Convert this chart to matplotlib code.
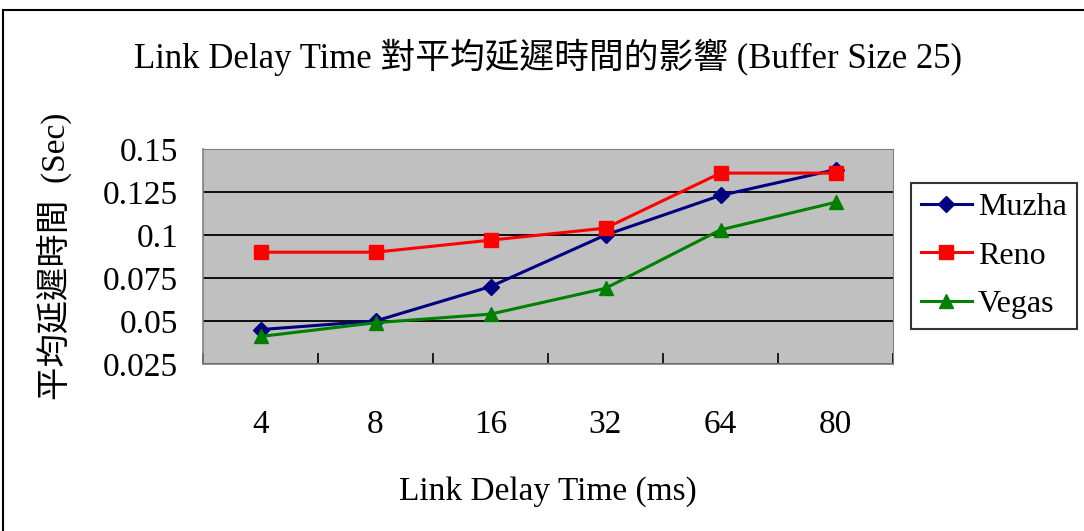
import matplotlib
matplotlib.use("Agg")
import matplotlib.pyplot as plt
from matplotlib.patches import Rectangle
from matplotlib.ticker import FixedLocator, NullFormatter

categories = ["4", "8", "16", "32", "64", "80"]
muzha = [0.045, 0.050, 0.070, 0.100, 0.123, 0.138]
reno = [0.090, 0.090, 0.097, 0.104, 0.136, 0.136]
vegas = [0.041, 0.049, 0.054, 0.069, 0.103, 0.119]
yticks = [0.025, 0.05, 0.075, 0.1, 0.125, 0.15]
ytick_labels = ["0.025", "0.05", "0.075", "0.1", "0.125", "0.15"]

FAM = ["Liberation Serif", "Noto Sans CJK TC", "DejaVu Sans"]
plt.rcParams["font.family"] = FAM
FS = 24

fig = plt.figure(figsize=(10.84, 5.31), dpi=100)
W, H = 1084, 531
fig.patches.append(Rectangle((3 / W, -0.01), 1.0, 1 - 10 / H + 0.01, transform=fig.transFigure,
                             fill=False, edgecolor="black", linewidth=1.5))

ax = fig.add_axes([203 / W, 1 - 364 / H, 690 / W, 215 / H])
ax.set_facecolor("#C0C0C0")
x = list(range(len(categories)))
ax.plot(x, muzha, color="#000080", marker="D", markersize=8, linewidth=2.2, label="Muzha")
ax.plot(x, reno, color="#FF0000", marker="s", markersize=10, linewidth=2.2, label="Reno")
ax.plot(x, vegas, color="#008000", marker="^", markersize=10, linewidth=2.2, label="Vegas")

ax.set_xlim(-0.5, len(categories) - 0.5)
ax.set_ylim(0.025, 0.15)
ax.set_yticks(yticks)
ax.set_yticklabels(ytick_labels)
ax.yaxis.grid(True, color="black", linewidth=1.3)
ax.set_axisbelow(True)
ax.set_xticks(x)
ax.set_xticklabels(categories)
ax.tick_params(axis="x", length=0, pad=33, labelsize=FS)
ax.xaxis.set_minor_locator(FixedLocator([i + 0.5 for i in range(-1, len(categories))]))
ax.xaxis.set_minor_formatter(NullFormatter())
ax.tick_params(axis="x", which="minor", length=8, width=1.2, direction="in", color="black")
ax.tick_params(axis="y", length=0, pad=18, labelsize=FS)
for s in ["top", "right"]:
    ax.spines[s].set_color("#808080")
for s in ["left", "bottom"]:
    ax.spines[s].set_color("#808080")
    ax.spines[s].set_linewidth(1.2)

ax.set_xlabel("Link Delay Time (ms)", fontsize=FS, labelpad=26)
ax.set_ylabel("平均延遲時間  (Sec)", fontsize=FS, labelpad=22)

fig.text(548 / W, 1 - 57 / H, "Link Delay Time 對平均延遲時間的影響 (Buffer Size 25)",
         ha="center", va="center", fontsize=25)

leg = ax.legend(loc="center left", bbox_to_anchor=(911 / W, 1 - 256 / H),
                bbox_transform=fig.transFigure, fontsize=23, frameon=True,
                fancybox=False, edgecolor="black", handlelength=1.6,
                borderpad=0.3, labelspacing=0.6, handletextpad=0.2, borderaxespad=0)
leg.get_frame().set_linewidth(1.5)

fig.savefig("out.png", dpi=100)
